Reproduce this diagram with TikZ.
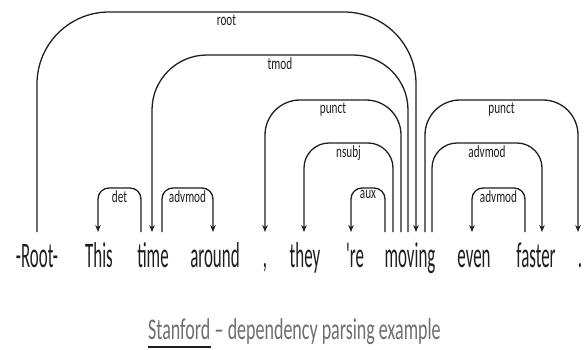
\documentclass[tikz,border=0pt]{standalone}
\usepackage{fontspec}
\newfontfamily\wordfont[FakeStretch=0.47]{Carlito}
\newfontfamily\lblfont[FakeStretch=0.66]{Carlito}
\newfontfamily\capfont[FakeStretch=0.6]{Carlito}
\usetikzlibrary{arrows.meta}
\definecolor{ink}{HTML}{1E1E1E}
\definecolor{capgray}{HTML}{6E6E6E}
\tikzset{
  word/.style={font=\wordfont\fontsize{36}{40}\selectfont, text=ink, anchor=base, inner sep=0pt},
  lbl/.style={font=\lblfont\fontsize{17}{19}\selectfont, text=ink, below, inner sep=2pt},
  dep/.style={draw=ink, line width=1.3pt, -{Stealth[length=7pt,width=5.5pt]}},
  captext/.style={font=\capfont\fontsize{30}{34}\selectfont, text=capgray, anchor=base west, inner sep=0pt},
  uline/.style={draw=ink, line width=1.3pt}
}
\begin{document}
\begin{tikzpicture}[x=1pt,y=-1pt]
\useasboundingbox (0,0) rectangle (584,350);
% words
\node[word] (wroot)   at (37,267)  {-Root-};
\node[word] (wthis)   at (99,267)  {This};
\node[word] (wtime)   at (153,267) {time};
\node[word] (waround) at (215,267) {around};
\node[word] (wcomma)  at (265,267) {,};
\node[word] (wthey)   at (305,267) {they};
\node[word] (wre)     at (355,267) {'re};
\node[word] (wmoving) at (410,267) {moving};
\node[word] (weven)   at (474,267) {even};
\node[word] (wfaster) at (536,267) {faster};
\node[word] (wdot)    at (580,267) {.};
% attachment points
\coordinate (pRoot)   at (37,232);
\coordinate (pThis)   at (98,232);
\coordinate (pTimeA)  at (141,232);
\coordinate (pTimeB)  at (152,232);
\coordinate (pTimeC)  at (162,232);
\coordinate (pAround) at (213,232);
\coordinate (pComma)  at (265,232);
\coordinate (pThey)   at (304,232);
\coordinate (pRe)     at (351,232);
\coordinate (mAux)    at (385,232);
\coordinate (mNsubj)  at (393,232);
\coordinate (mPunctL) at (401,232);
\coordinate (mTmod)   at (408,232);
\coordinate (mRoot)   at (416,232);
\coordinate (mPunctR) at (425,232);
\coordinate (mAdv)    at (432,232);
\coordinate (pEven)   at (472,232);
\coordinate (pFasterA) at (525,232);
\coordinate (pFasterB) at (542,232);
\coordinate (pDot)    at (578,232);
% arcs
\draw[dep, rounded corners=72] (pRoot) -- (pRoot |- 0,12) -- node[lbl]{root} (mRoot |- 0,12) -- (mRoot);
\draw[dep, rounded corners=55] (mTmod) -- (mTmod |- 0,55) -- node[lbl]{tmod} (pTimeB |- 0,55) -- (pTimeB);
\draw[dep, rounded corners=35] (mPunctL) -- (mPunctL |- 0,100) -- node[lbl]{punct} (pComma |- 0,100) -- (pComma);
\draw[dep, rounded corners=25] (mNsubj) -- (mNsubj |- 0,143) -- node[lbl]{nsubj} (pThey |- 0,143) -- (pThey);
\draw[dep, rounded corners=11] (mAux) -- (mAux |- 0,188) -- node[lbl]{aux} (pRe |- 0,188) -- (pRe);
\draw[dep, rounded corners=11] (pTimeA) -- (pTimeA |- 0,188) -- node[lbl]{det} (pThis |- 0,188) -- (pThis);
\draw[dep, rounded corners=11] (pTimeC) -- (pTimeC |- 0,188) -- node[lbl]{advmod} (pAround |- 0,188) -- (pAround);
\draw[dep, rounded corners=11] (pFasterA) -- (pFasterA |- 0,188) -- node[lbl]{advmod} (pEven |- 0,188) -- (pEven);
\draw[dep, rounded corners=25] (mAdv) -- (mAdv |- 0,143) -- node[lbl]{advmod} (pFasterB |- 0,143) -- (pFasterB);
\draw[dep, rounded corners=35] (mPunctR) -- (mPunctR |- 0,100) -- node[lbl]{punct} (pDot |- 0,100) -- (pDot);
% caption
\node[captext] (stan) at (148,339) {Stanford};
\node[captext] (rest) at ([xshift=4pt]stan.base east) {– dependency parsing example};
\draw[uline] ([yshift=-8pt]stan.base west) -- ([yshift=-8pt]stan.base east);
\end{tikzpicture}
\end{document}
